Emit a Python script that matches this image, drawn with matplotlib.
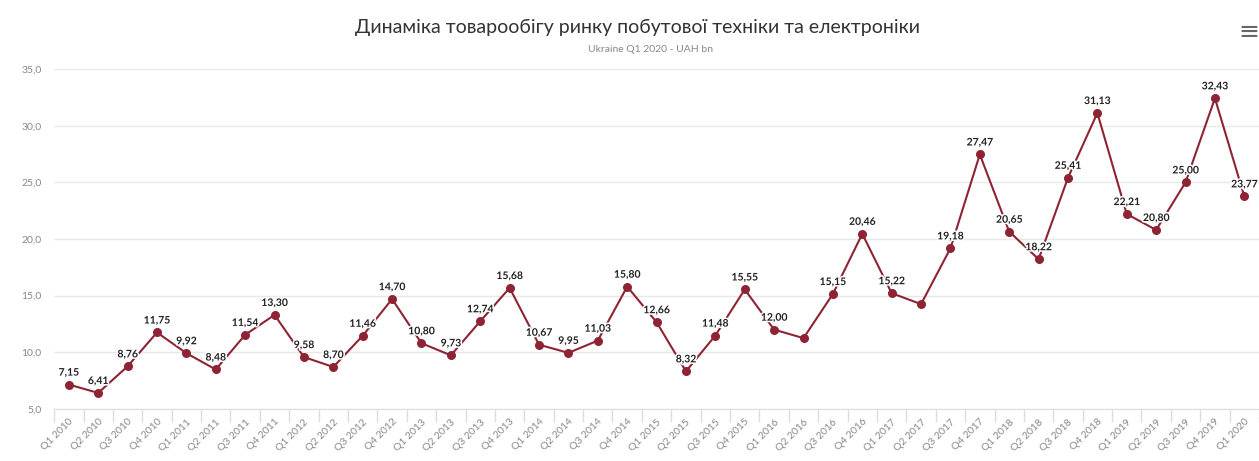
import numpy as np
import matplotlib
matplotlib.use("Agg")
import matplotlib.pyplot as plt
import matplotlib.patheffects as pe
from matplotlib.ticker import FixedLocator, FuncFormatter

plt.rcParams['font.family'] = ['Lato', 'DejaVu Sans']

# data
quarters = [f"Q{q} {y}" for y in range(2010, 2020) for q in range(1, 5)] + ["Q1 2020"]
values = [7.15, 6.41, 8.76, 11.75, 9.92, 8.48, 11.54, 13.30, 9.58, 8.70,
          11.46, 14.70, 10.80, 9.73, 12.74, 15.68, 10.67, 9.95, 11.03, 15.80,
          12.66, 8.32, 11.48, 15.55, 12.00, 11.25, 15.15, 20.46, 15.22, 14.25,
          19.18, 27.47, 20.65, 18.22, 25.41, 31.13, 22.21, 20.80, 25.00, 32.43,
          23.77]
# points shown without a value label in the original
unlabeled = ["Q2 2016", "Q2 2017"]

x = np.arange(len(values))

fig = plt.figure(figsize=(12.59, 4.61), dpi=100)
ax = fig.add_axes([0.043, 0.113, 0.957, 0.737])

line_col = "#8e2433"
ax.plot(x, values, color=line_col, lw=1.5, zorder=3, clip_on=False)
ax.scatter(x, values, s=30, color=line_col, zorder=4, clip_on=False)

for xi, v, q in zip(x, values, quarters):
    if q in unlabeled:
        continue
    ax.annotate(f"{v:.2f}".replace(".", ","), (xi, v), xytext=(0, 5),
                textcoords="offset points", ha="center", va="bottom",
                fontsize=7.5, fontweight="bold", color="#222222", zorder=5,
                annotation_clip=False,
                path_effects=[pe.withStroke(linewidth=2.2, foreground="white")])

ax.set_ylim(5, 35)
ax.set_xlim(-0.5, len(values) - 0.5)
ax.set_yticks(np.arange(5, 36, 5))
ax.yaxis.set_major_formatter(FuncFormatter(lambda v, p: f"{v:.1f}".replace(".", ",")))
ax.grid(axis="y", color="#e8e8e8", lw=1)
ax.set_axisbelow(True)

ax.set_xticks(x)
ax.set_xticklabels(quarters, rotation=45, ha="right", rotation_mode="anchor",
                   fontsize=7.5, color="#888888")
ax.xaxis.set_minor_locator(FixedLocator(np.arange(-0.5, len(values), 1)))
ax.tick_params(axis="x", which="major", length=0, pad=6)
ax.tick_params(axis="x", which="minor", length=9, color="#d8dde6", width=1)
ax.tick_params(axis="y", length=0, labelsize=7.5, labelcolor="#888888", pad=9)

for s in ["top", "right", "left"]:
    ax.spines[s].set_visible(False)
ax.spines["bottom"].set_color("#d8dde6")

fig.text(0.506, 0.94, "Динаміка товарообігу ринку побутової техніки та електроніки",
         ha="center", va="center", fontsize=14, color="#333333")
fig.text(0.517, 0.893, "Ukraine Q1 2020 - UAH bn", ha="center", va="center",
         fontsize=7.5, color="#888888")
fig.text(0.992, 0.93, "≡", ha="center", va="center", fontsize=18,
         color="#666666", family="DejaVu Sans")

fig.savefig("out.png", dpi=100, facecolor="white")
